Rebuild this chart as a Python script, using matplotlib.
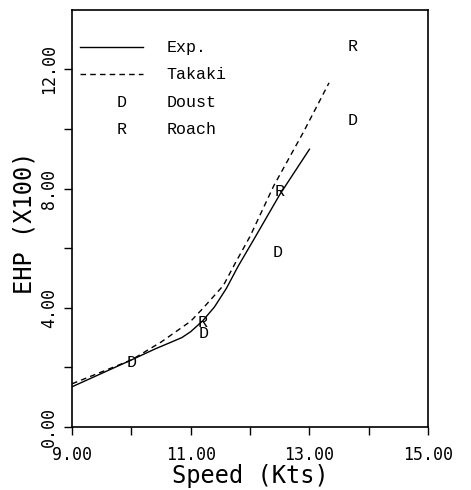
import matplotlib.pyplot as plt

# Data
exp_speed = [9.0, 9.5, 10.0, 10.4, 10.65, 10.85, 11.0, 11.2, 11.4, 11.6, 11.8, 12.05, 12.5, 13.0]
exp_ehp = [1.35, 1.8, 2.25, 2.62, 2.83, 3.0, 3.2, 3.56, 4.03, 4.65, 5.4, 6.25, 7.8, 9.32]

takaki_speed = [9.0, 9.5, 10.0, 10.5, 11.0, 11.2, 11.55, 11.75, 12.0, 12.4, 12.9, 13.33]
takaki_ehp = [1.45, 1.85, 2.25, 2.85, 3.55, 3.97, 4.75, 5.5, 6.4, 8.1, 9.9, 11.55]

doust_speed = [10.0, 11.22, 12.47, 13.72]
doust_ehp = [2.18, 3.14, 5.86, 10.27]

roach_speed = [11.2, 12.49, 13.72]
roach_ehp = [3.52, 7.9, 12.78]

x_ticks = [9, 10, 11, 12, 13, 14, 15]
x_labels = ['9.00', '', '11.00', '', '13.00', '', '15.00']
y_ticks = [0, 2, 4, 6, 8, 10, 12]
y_labels = ['0.00', '', '4.00', '', '8.00', '', '12.00']

mono = 'DejaVu Sans Mono'
courier = 'Liberation Mono'

fig = plt.figure(figsize=(4.71, 4.90), dpi=100)
ax = fig.add_axes([0.153, 0.1286, 0.756, 0.8514])

ax.plot(exp_speed, exp_ehp, color='black', lw=1.0)
ax.plot(takaki_speed, takaki_ehp, color='black', lw=1.0, ls=(0, (4, 3)))

for s, e in zip(doust_speed, doust_ehp):
    ax.text(s, e, 'D', ha='center', va='center', fontsize=12, family=courier)
for s, e in zip(roach_speed, roach_ehp):
    ax.text(s, e, 'R', ha='center', va='center', fontsize=12, family=courier)

ax.set_xlim(9, 15)
ax.set_ylim(0, 14)
ax.set_xticks(x_ticks)
ax.set_xticklabels(x_labels, family=mono, fontsize=12)
ax.set_yticks(y_ticks)
ax.set_yticklabels(y_labels, family=mono, fontsize=12, rotation=90, va='center')
ax.tick_params(direction='out', length=6, width=1, pad=8)
ax.tick_params(axis='y', pad=4)

ax.set_xlabel('Speed (Kts)', family=mono, fontsize=17)
ax.set_ylabel('EHP (X100)', family=mono, fontsize=17)
ax.xaxis.set_label_coords(0.5, -0.088)
ax.yaxis.set_label_coords(-0.1, 0.49)

for sp in ax.spines.values():
    sp.set_linewidth(1.2)

# legend drawn by hand, like the old plotter output
tr = ax.transAxes
ax.plot([0.022, 0.2], [0.91, 0.91], color='black', lw=1.0, transform=tr)
ax.plot([0.022, 0.2], [0.845, 0.845], color='black', lw=1.0, ls=(0, (4, 3)), transform=tr)
ax.text(0.14, 0.778, 'D', ha='center', va='center', fontsize=12, family=courier, transform=tr)
ax.text(0.14, 0.712, 'R', ha='center', va='center', fontsize=12, family=courier, transform=tr)
names = ['Exp.', 'Takaki', 'Doust', 'Roach']
for i, n in enumerate(names):
    ax.text(0.265, 0.91 - i * 0.066, n, ha='left', va='center', fontsize=12,
            family=courier, transform=tr)

fig.savefig('out.png', dpi=100)
